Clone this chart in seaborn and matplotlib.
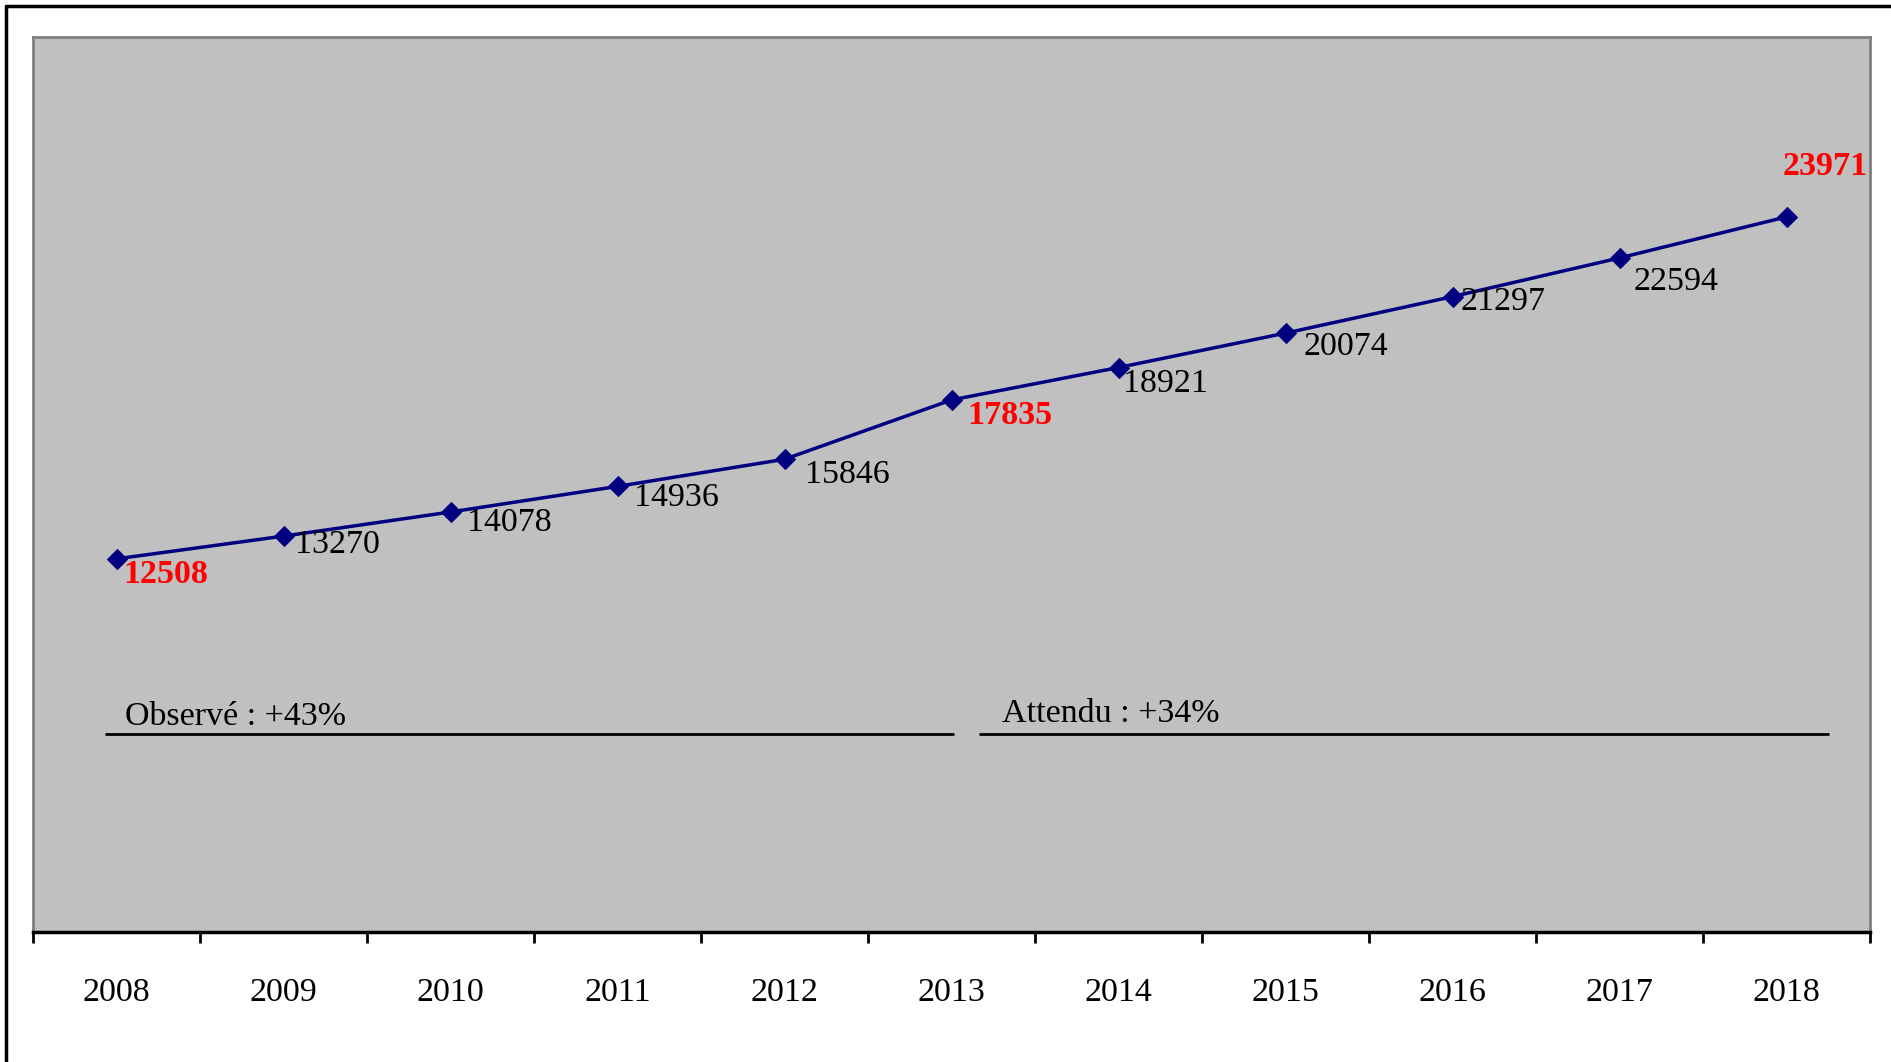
import matplotlib
matplotlib.use("Agg")
import matplotlib.pyplot as plt
from matplotlib.lines import Line2D
import seaborn as sns
import pandas as pd
import numpy as np

years = ["2008", "2009", "2010", "2011", "2012", "2013", "2014", "2015", "2016", "2017", "2018"]
values = [12508, 13270, 14078, 14936, 15846, 17835, 18921, 20074, 21297, 22594, 23971]
highlight = [True, False, False, False, False, True, False, False, False, False, True]
# label offsets (points): dx, dy
label_dx = [5, 8, 12, 12, 15, 11, 3, 13, 6, 10, -3]
label_dy = [-11, -6, -8, -8, -11, -11, -12, -10, -4, -17, 36]
segment_texts = ["Observé : +43%", "Attendu : +34%"]

sns.set_theme(style="white")
plt.rcParams['font.family'] = ['Liberation Serif', 'DejaVu Serif']

FS = 24.5

fig = plt.figure(figsize=(18.91, 10.62), dpi=100)
ax = fig.add_axes([33/1891, 1-932/1062, (1870-33)/1891, (932-37)/1062])
ax.set_facecolor("#C0C0C0")

df = pd.DataFrame({"idx": np.arange(len(years)), "val": values})
sns.lineplot(data=df, x="idx", y="val", ax=ax, color="#000080", linewidth=2.5,
             marker="D", markersize=10.5, markeredgecolor="#000080", markerfacecolor="#000080")

ax.set_xlim(-0.5, len(years) - 0.5)
ax.set_ylim(0, 30000)
ax.set_xlabel("")
ax.set_ylabel("")
ax.set_yticks([])
ax.set_xticks(np.arange(len(years)))
ax.set_xticklabels(years, fontsize=FS)
ax.set_xticks(np.arange(len(years) + 1) - 0.5, minor=True)
ax.tick_params(axis="x", which="major", length=0, pad=33, colors="black")
ax.tick_params(axis="x", which="minor", length=8, width=2, direction="out", color="black", bottom=True)

for side in ["left", "top", "right"]:
    ax.spines[side].set_color("#808080")
    ax.spines[side].set_linewidth(2)
ax.spines["bottom"].set_color("black")
ax.spines["bottom"].set_linewidth(2.5)

for i, (v, hl) in enumerate(zip(values, highlight)):
    ax.annotate(str(v), xy=(i, v), xytext=(label_dx[i], label_dy[i]), textcoords="offset points",
                ha="left", va="center", fontsize=FS,
                color="red" if hl else "black", fontweight="bold" if hl else "normal")

# segment lines
seg_y = 6650
ax.plot([-0.06, 5.01], [seg_y, seg_y], color="black", linewidth=2)
ax.plot([5.17, 10.25], [seg_y, seg_y], color="black", linewidth=2)
ax.text(0.05, seg_y + 60, segment_texts[0], fontsize=FS, ha="left", va="bottom", color="black")
ax.text(5.30, seg_y + 140, segment_texts[1], fontsize=FS, ha="left", va="bottom", color="black")

# outer frame (left and top)
fig.add_artist(Line2D([6/1891, 6/1891], [0, 1-6/1062], color="black", linewidth=2.5, transform=fig.transFigure))
fig.add_artist(Line2D([6/1891, 1], [1-6/1062, 1-6/1062], color="black", linewidth=2.5, transform=fig.transFigure))

fig.savefig("out.png", dpi=100, facecolor="white")
